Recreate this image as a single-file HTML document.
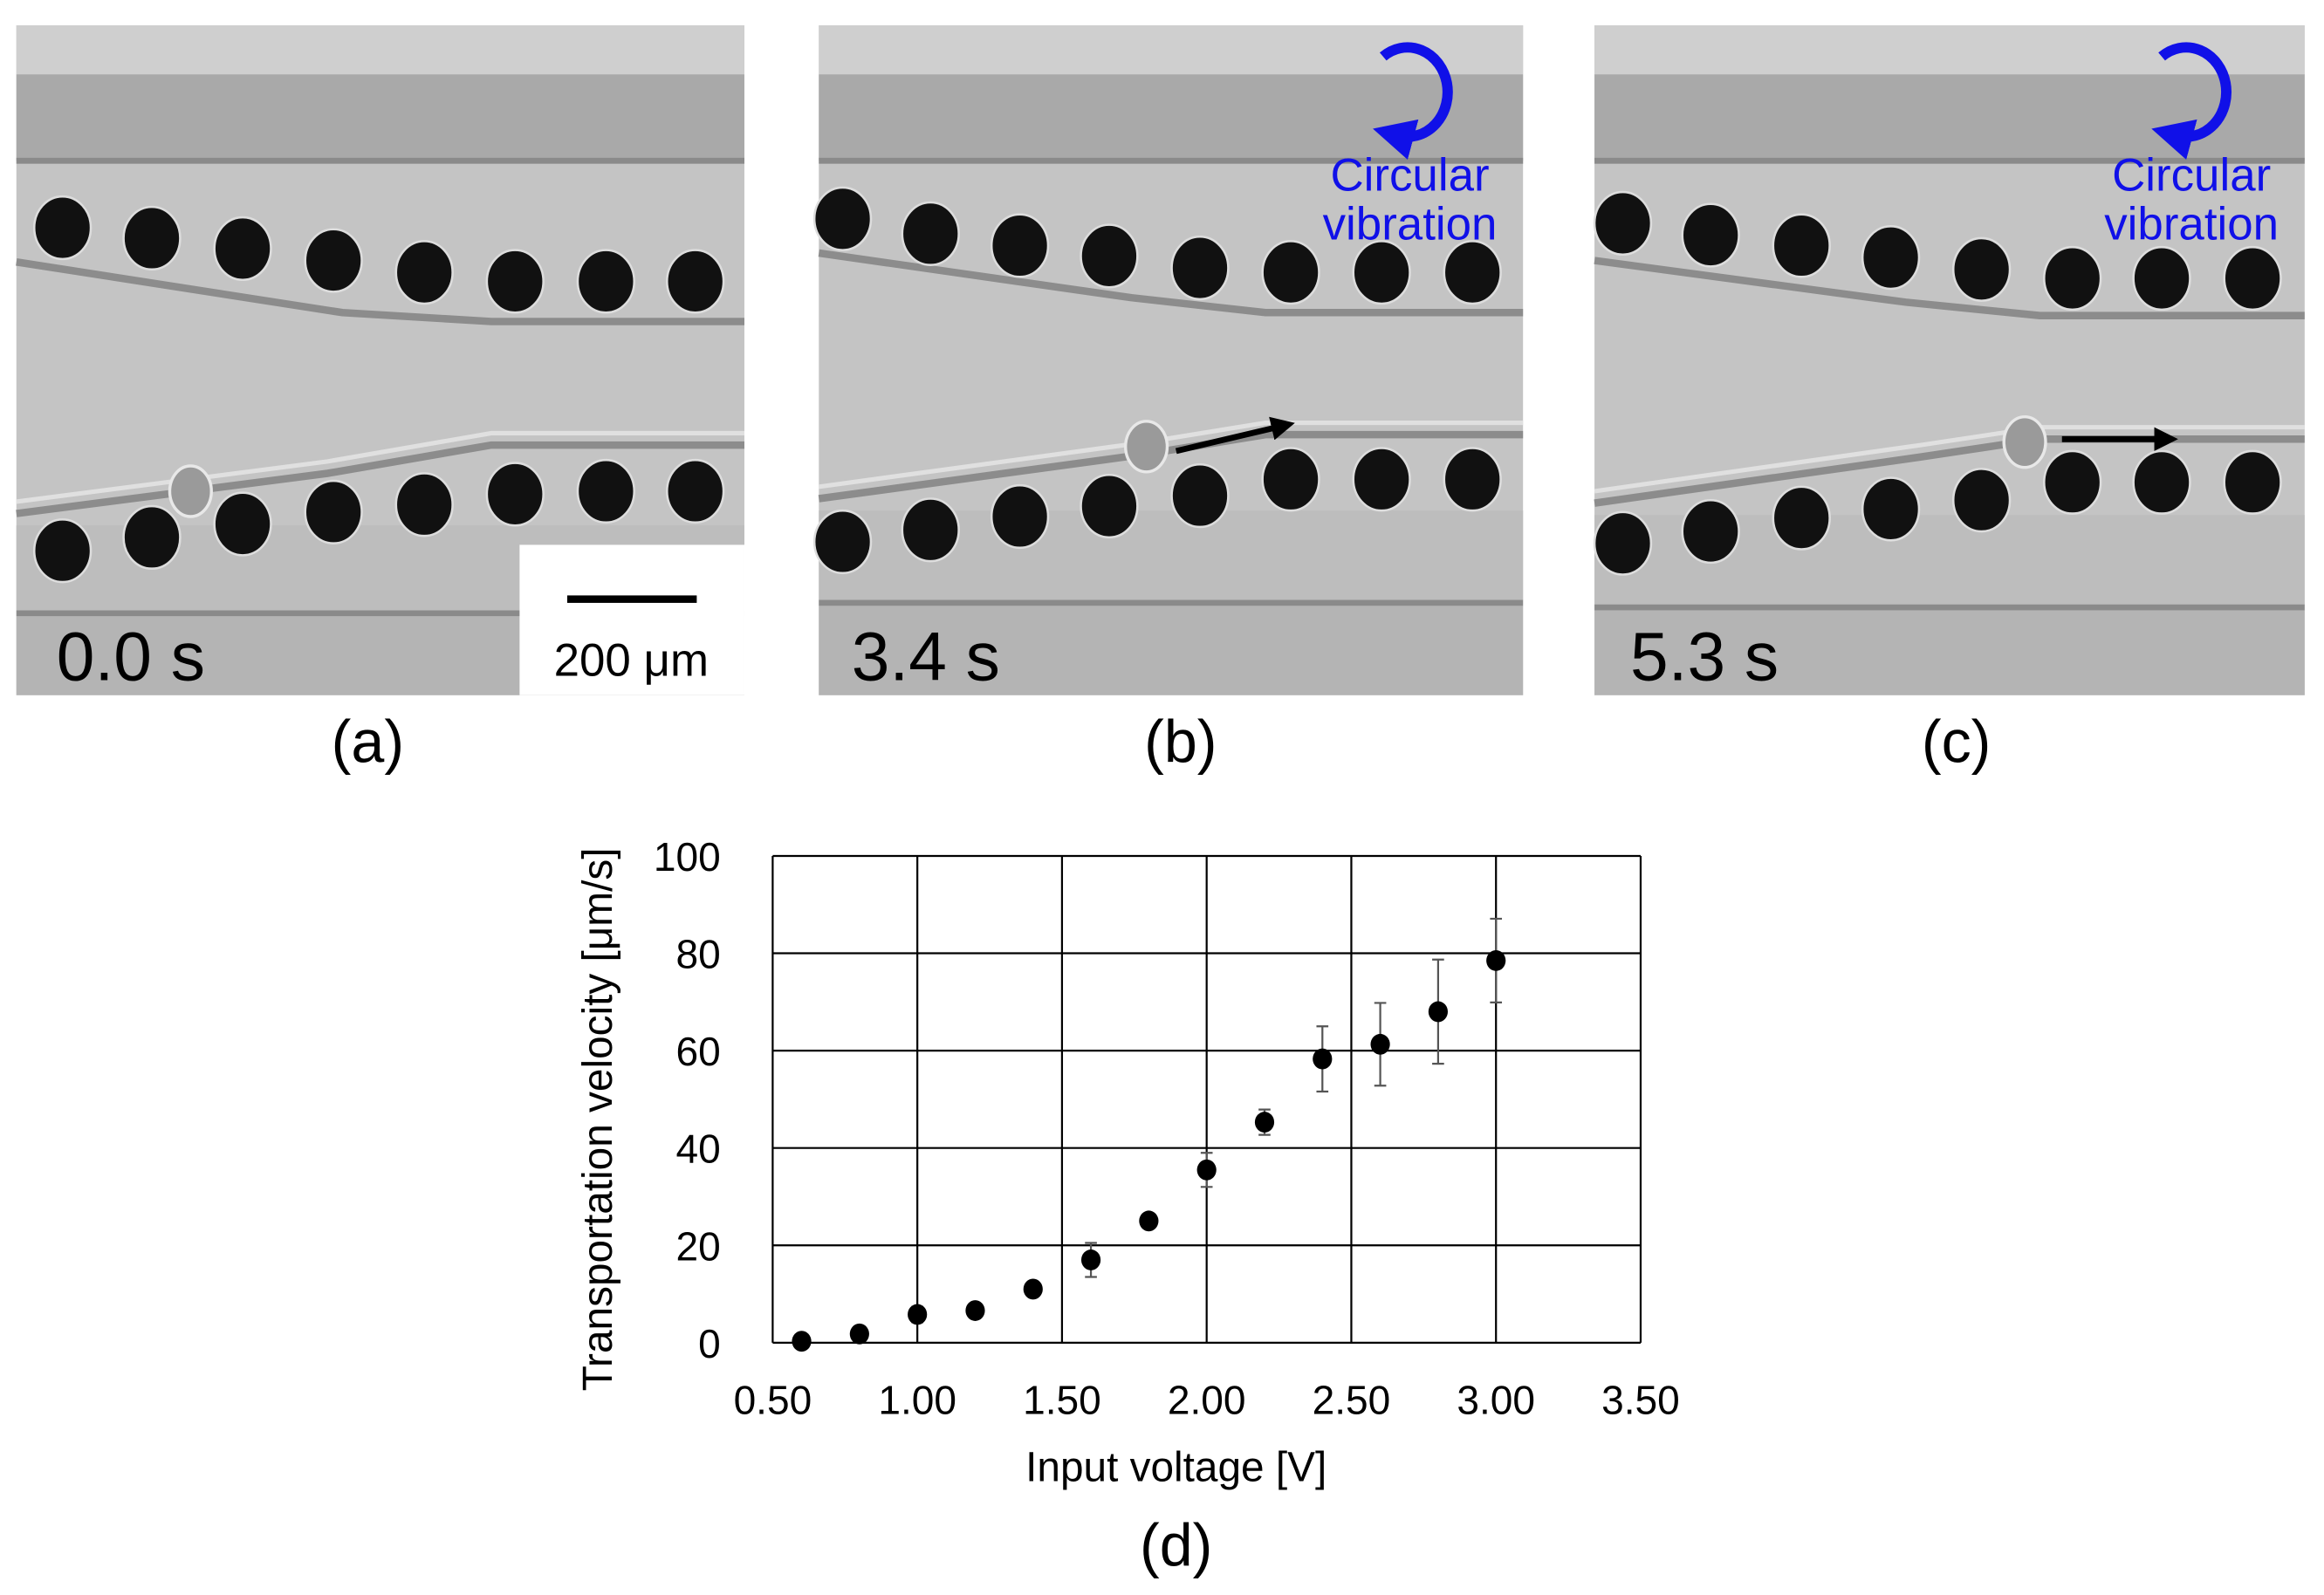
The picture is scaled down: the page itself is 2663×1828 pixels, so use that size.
<!DOCTYPE html>
<html><head><meta charset="utf-8"><style>
html,body{margin:0;padding:0;background:#fff}
svg{display:block}
text{font-family:"Liberation Sans",Arial,sans-serif}
</style></head><body>
<svg id="fig" width="2663" height="1828" viewBox="0 0 1561 1071.5" preserveAspectRatio="none" xmlns="http://www.w3.org/2000/svg">
<defs>
<marker id="ah" markerWidth="4" markerHeight="4" refX="2" refY="2" orient="auto"><path d="M0,0 L4,2 L0,4 Z" fill="#000"/></marker>
<marker id="bh" markerWidth="4" markerHeight="4" refX="1.5" refY="2" orient="auto"><path d="M0,0 L4,2 L0,4 Z" fill="#1010e8"/></marker>
</defs>
<g id="panels"></g>
<g id="chart"></g>
</svg>
<script>
const NS="http://www.w3.org/2000/svg";
function mk(parent,tag,attrs,text){const e=document.createElementNS(NS,tag);for(const k in attrs)e.setAttribute(k,attrs[k]);if(text!==undefined)e.textContent=text;parent.appendChild(e);return e;}
const panels=document.getElementById('panels');
const P=[
 {x0:11,x1:500,name:'panel-a',lab:'(a)',lc:247,time:'0.0 s',tx:38,
  up:[153,160,167,175,183,189,189,189],lo:[370,361,352,344,339,332,330,330],dx:[42,102,163,224,285,346,407,467],
  uw:[[11,176],[230,210],[330,216],[500,216]],lw:[[11,345],[220,318],[330,299],[500,299]],cell:[128,330],arrow:null,circ:false,scale:true,bl:410},
 {x0:550,x1:1023,name:'panel-b',lab:'(b)',lc:793,time:'3.4 s',tx:572,
  up:[147,157,165,172,180,183,183,183],lo:[364,356,347,340,333,322,322,322],dx:[566,625,685,745,806,867,928,989],
  uw:[[550,170],[760,200],[850,210],[1023,210]],lw:[[550,335],[770,305],[850,292],[1023,292]],cell:[770,300],arrow:[790,303,862,286],circ:true,scale:false,bl:403},
 {x0:1071,x1:1548,name:'panel-c',lab:'(c)',lc:1314,time:'5.3 s',tx:1095,
  up:[150,158,165,173,181,187,187,187],lo:[365,357,348,342,336,324,324,324],dx:[1090,1149,1210,1270,1331,1392,1452,1513],
  uw:[[1071,175],[1280,203],[1370,212],[1548,212]],lw:[[1071,338],[1290,307],[1370,295],[1548,295]],cell:[1360,297],arrow:[1385,295,1455,295],circ:true,scale:false,bl:406}
];
P.forEach(p=>{
 const g=mk(panels,'g',{});
 
 
 const w=p.x1-p.x0;
 mk(g,'rect',{x:p.x0,y:17,width:w,height:450,fill:'#c4c4c4'});
 mk(g,'rect',{x:p.x0,y:17,width:w,height:33,fill:'#cfcfcf'});
 mk(g,'rect',{x:p.x0,y:50,width:w,height:58,fill:'#a9a9a9'});
 mk(g,'rect',{x:p.x0,y:106,width:w,height:4,fill:'#8a8a8a'});
 mk(g,'rect',{x:p.x0,y:p.bl,width:w,height:4,fill:'#8a8a8a'});
 mk(g,'rect',{x:p.x0,y:p.bl+4,width:w,height:467-p.bl-4,fill:'#b4b4b4'});
 mk(g,'rect',{x:p.x0,y:p.lw[0][1]+8,width:w,height:p.bl-p.lw[0][1]-8,fill:'#bdbdbd'});
 const pl=a=>a.map(q=>q.join(',')).join(' ');
 mk(g,'polyline',{points:pl(p.uw),fill:'none',stroke:'#8c8c8c','stroke-width':5});
 mk(g,'polyline',{points:pl(p.lw),fill:'none',stroke:'#8c8c8c','stroke-width':5});
 mk(g,'polyline',{points:pl(p.lw.map(q=>[q[0],q[1]-8])),fill:'none',stroke:'#e0e0e0','stroke-width':3});
 p.dx.forEach((x,i)=>{
  mk(g,'ellipse',{cx:x,cy:p.up[i],rx:19,ry:21,fill:'#111',stroke:'#ddd','stroke-width':1.5});
  mk(g,'ellipse',{cx:x,cy:p.lo[i],rx:19,ry:21,fill:'#111',stroke:'#ddd','stroke-width':1.5});
 });
 mk(g,'ellipse',{cx:p.cell[0],cy:p.cell[1],rx:14,ry:17,fill:'#9a9a9a',stroke:'#e8e8e8','stroke-width':2});
 if(p.arrow){const a=mk(g,'line',{x1:p.arrow[0],y1:p.arrow[1],x2:p.arrow[2],y2:p.arrow[3],stroke:'#000','stroke-width':4,'marker-end':'url(#ah)'});}
 if(p.circ){
  const cx=p.x0+(p.name==='panel-b'?401:403),cy=60;
  const c=mk(g,'path',{d:`M${cx-22},${cy-22} A27,30 0 1 1 ${cx-12},${cy+31}`,fill:'none',stroke:'#1010e8','stroke-width':7,'marker-end':'url(#bh)'});
  
  const t1=mk(g,'text',{x:p.x1-76,y:128,'font-size':31,fill:'#1010e8','text-anchor':'middle'},'Circular');
  
  const t2=mk(g,'text',{x:p.x1-76,y:161,'font-size':31,fill:'#1010e8','text-anchor':'middle'},'vibration');
  
 }
 if(p.scale){
  mk(g,'rect',{x:349,y:366,width:151,height:101,fill:'#fff'});
  mk(g,'rect',{x:381,y:400,width:87,height:5,fill:'#000'});
  const s=mk(g,'text',{x:424,y:454,'font-size':31,'text-anchor':'middle'},'200 μm');
  
 }
 const tt=mk(g,'text',{x:p.tx,y:457,'font-size':46},p.time);
 
 const lb=mk(g,'text',{x:p.lc,y:512,'font-size':40,'text-anchor':'middle'},p.lab);
 
});

// ---- chart data ----
const voltages=[0.6,0.8,1.0,1.2,1.4,1.6,1.8,2.0,2.2,2.4,2.6,2.8,3.0];
const velocities=[0.3,1.8,5.8,6.6,11,17,25,35.5,45.3,58.3,61.3,68,78.5];
const errors=[0.5,0.5,1.6,0.5,0.5,3.5,1.2,3.5,2.6,6.7,8.5,10.7,8.6];
const xTicks=[0.5,1.0,1.5,2.0,2.5,3.0,3.5];
const xTickLabels=['0.50','1.00','1.50','2.00','2.50','3.00','3.50'];
const yTicks=[0,20,40,60,80,100];
const L=519,R=1102,T=575,B=902;
const xs=v=>L+(v-0.5)/3*(R-L);
const ys=v=>B-v/100*(B-T);
const ch=document.getElementById('chart');
xTicks.forEach((t,i)=>{
 const l=mk(ch,'line',{x1:xs(t),x2:xs(t),y1:T,y2:B,stroke:'#000','stroke-width':1.3});
 
 const tx=mk(ch,'text',{x:xs(t),y:950,'font-size':27,'text-anchor':'middle'},xTickLabels[i]);
 
});
yTicks.forEach(t=>{
 const l=mk(ch,'line',{x1:L,x2:R,y1:ys(t),y2:ys(t),stroke:'#000','stroke-width':1.3});
 
 const tx=mk(ch,'text',{x:484,y:ys(t)+10,'font-size':27,'text-anchor':'end'},String(t));
 
});
voltages.forEach((v,i)=>{
 const x=xs(v),y=ys(velocities[i]),e=errors[i];
 const eb=mk(ch,'path',{d:`M${x},${ys(velocities[i]+e)}V${ys(velocities[i]-e)}M${x-4},${ys(velocities[i]+e)}h8M${x-4},${ys(velocities[i]-e)}h8`,stroke:'#555','stroke-width':1.3,fill:'none'});
 
 const c=mk(ch,'ellipse',{cx:x,cy:y,rx:6.5,ry:7,fill:'#000'});
 
});
const xt=mk(ch,'text',{x:790,y:995,'font-size':28,'text-anchor':'middle'},'Input voltage [V]');

const yt=mk(ch,'text',{x:0,y:0,'font-size':28,'text-anchor':'middle',transform:'translate(411,752) rotate(-90)'},'Transportation velocity [μm/s]');

const dl=mk(ch,'text',{x:790,y:1052,'font-size':40,'text-anchor':'middle'},'(d)');

</script>
</body></html>
